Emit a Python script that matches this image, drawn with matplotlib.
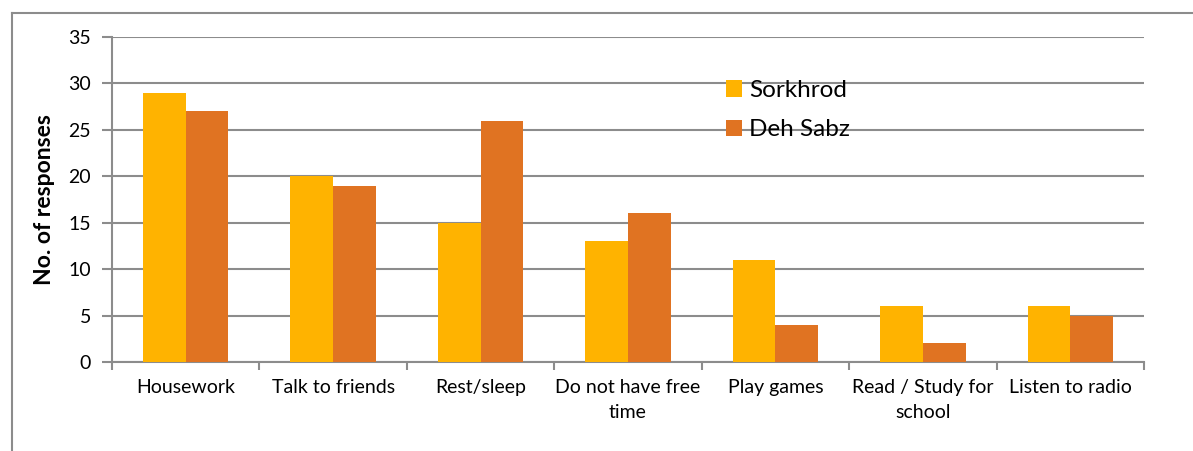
import matplotlib
matplotlib.use('Agg')
import matplotlib.pyplot as plt
import numpy as np
from matplotlib.lines import Line2D

plt.rcParams['font.family'] = ['Lato', 'DejaVu Sans']

categories = ['Housework', 'Talk to friends', 'Rest/sleep', 'Do not have free\ntime',
              'Play games', 'Read / Study for\nschool', 'Listen to radio']
sorkhrod = [29, 20, 15, 13, 11, 6, 6]
deh_sabz = [27, 19, 26, 16, 4, 2, 5]
yticks = [0, 5, 10, 15, 20, 25, 30, 35]

fig = plt.figure(figsize=(11.93, 4.51), dpi=100)
ax = fig.add_axes([0.0939, 0.1973, 0.865, 0.7206])

x = np.arange(len(categories))
w = 0.29
ax.bar(x - w/2, sorkhrod, w, color='#FFB300', label='Sorkhrod', zorder=3)
ax.bar(x + w/2, deh_sabz, w, color='#E07322', label='Deh Sabz', zorder=3)

ax.set_xlim(-0.5, len(categories) - 0.5)
ax.set_ylim(0, 35)
ax.set_yticks(yticks)
ax.set_yticklabels([str(v) for v in yticks], fontsize=14)
ax.set_xticks(x)
ax.set_xticklabels(categories, fontsize=14, linespacing=1.6)
ax.set_xticks(np.arange(len(categories) + 1) - 0.5, minor=True)
ax.tick_params(axis='x', which='major', length=0, pad=12)
ax.tick_params(axis='x', which='minor', length=6, color='#8c8c8c', width=1.5)
ax.tick_params(axis='y', length=7, color='#8c8c8c', width=1.5, pad=8)

ax.grid(axis='y', color='#8c8c8c', linewidth=1.5, zorder=0)
ax.set_axisbelow(True)
for s in ['top', 'right']:
    ax.spines[s].set_visible(False)
for s in ['left', 'bottom']:
    ax.spines[s].set_color('#8c8c8c')
    ax.spines[s].set_linewidth(1.5)

ax.set_ylabel('No. of responses', fontsize=16.5, fontweight='bold', labelpad=10)

ax.legend(loc='upper left', bbox_to_anchor=(0.574, 0.935), frameon=False,
          fontsize=17.5, handlelength=0.65, handleheight=0.65, handletextpad=0.3,
          labelspacing=0.75)

# outer chart frame (top and left edges)
fig.add_artist(Line2D([12/1193, 1], [1 - 13/451, 1 - 13/451], color='#8c8c8c', linewidth=1.5))
fig.add_artist(Line2D([12/1193, 12/1193], [0, 1 - 13/451], color='#8c8c8c', linewidth=1.5))

fig.savefig('out.png', dpi=100, facecolor='white')
